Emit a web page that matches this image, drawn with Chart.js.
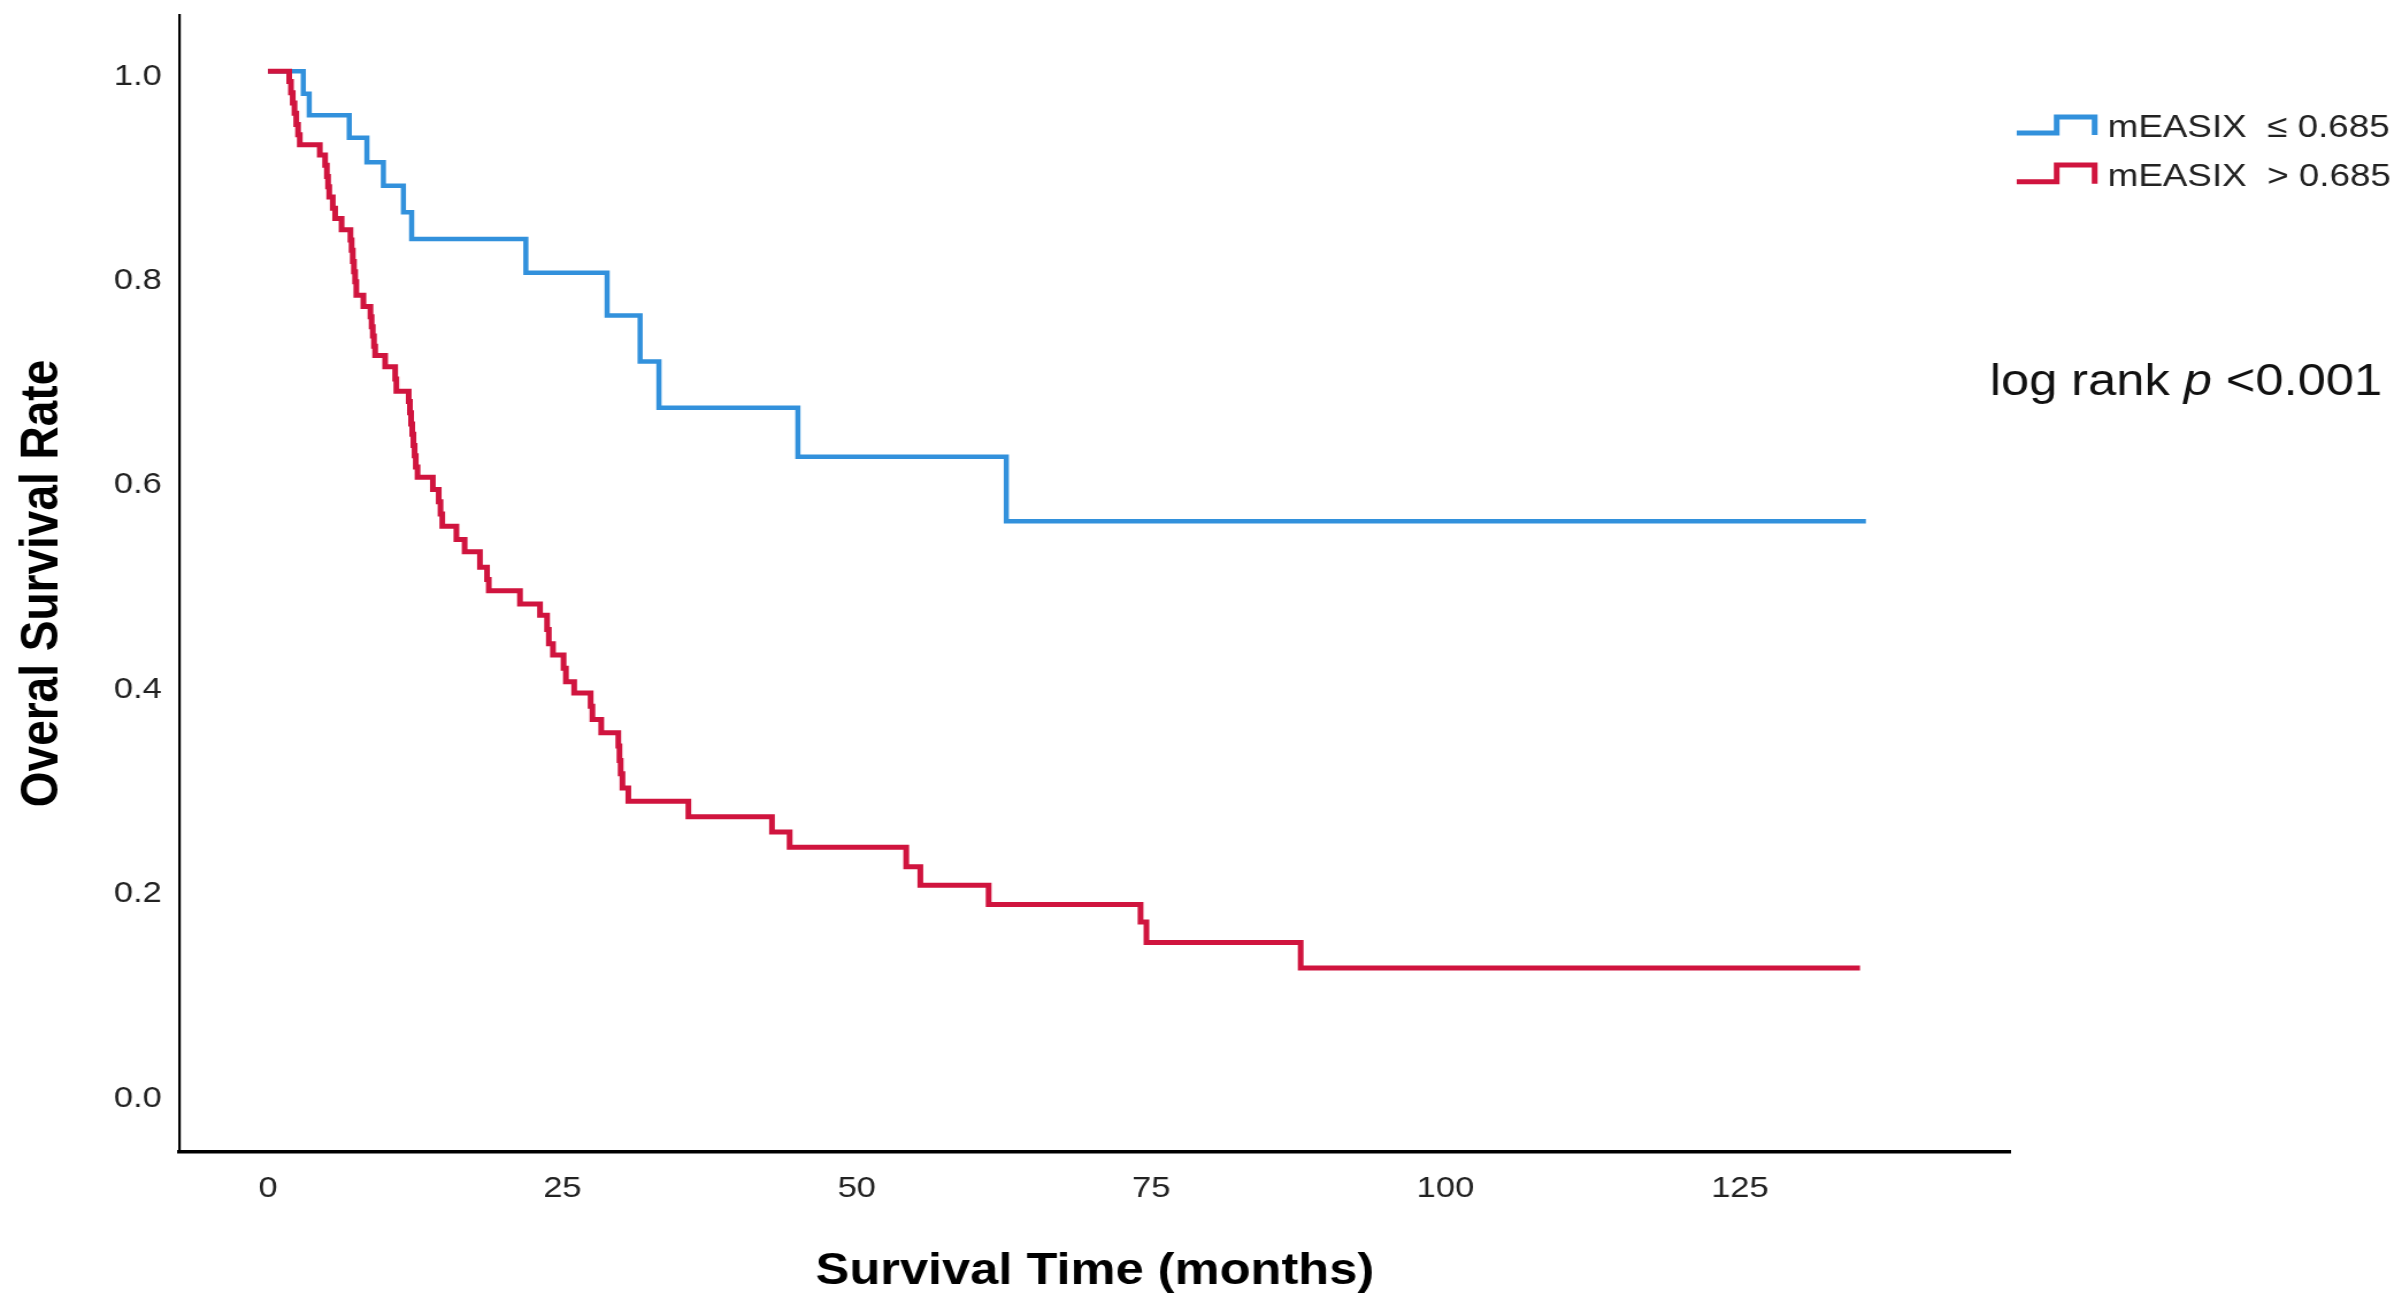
<!DOCTYPE html>
<html>
<head>
<meta charset="utf-8">
<script src="https://cdn.jsdelivr.net/npm/chart.js@4.4.1/dist/chart.umd.min.js"></script>
<style>
  html, body { margin: 0; padding: 0; background: #fff; }
  #km { display: block; }
</style>
</head>
<body>
<canvas id="km"></canvas>
<script>
// Kaplan-Meier steps (time in months, survival rate)
const lowTime = [0, 3.0, 3.5, 6.9, 8.4, 9.8, 11.5, 12.2, 21.9, 28.8, 31.6, 33.2, 45.0, 62.7, 135.7];
const lowSurv = [1.0, 0.978, 0.957, 0.935, 0.911, 0.888, 0.862, 0.836, 0.803, 0.761, 0.716, 0.671, 0.623, 0.560, 0.560];

const highTime = [0, 1.8, 1.95, 2.1, 2.25, 2.4, 2.55, 2.7,
    4.4, 4.85, 5.0, 5.1, 5.2, 5.5, 5.7, 6.25,
    7.0, 7.1, 7.2, 7.3, 7.4, 7.5, 8.1,
    8.7, 8.8, 8.9, 9.0, 9.1, 9.95,
    10.8, 10.9,
    11.95, 12.05, 12.15, 12.25, 12.35, 12.45, 12.55, 12.7,
    14.0, 14.5, 14.65, 14.8,
    16.0, 16.7, 18.0, 18.6, 18.75,
    21.4, 23.1, 23.7, 23.85, 24.2,
    25.1, 25.3, 26.0, 27.4, 27.55, 28.3,
    29.75, 29.85, 29.95, 30.1, 30.6,
    35.7, 42.8, 44.3, 54.2, 55.4, 61.2, 74.1, 74.6, 87.7, 135.2];
const highSurv = [1.0, 0.990, 0.979, 0.969, 0.959, 0.948, 0.938, 0.928,
    0.918, 0.908, 0.897, 0.887, 0.877, 0.866, 0.856, 0.845,
    0.835, 0.825, 0.814, 0.804, 0.794, 0.781, 0.770,
    0.760, 0.750, 0.741, 0.731, 0.722, 0.711,
    0.699, 0.687,
    0.677, 0.666, 0.655, 0.645, 0.634, 0.624, 0.613, 0.603,
    0.591, 0.579, 0.567, 0.555,
    0.542, 0.530, 0.515, 0.503, 0.492,
    0.479, 0.468, 0.454, 0.440, 0.429,
    0.416, 0.403, 0.392, 0.379, 0.366, 0.353,
    0.340, 0.326, 0.313, 0.299, 0.286,
    0.271, 0.256, 0.241, 0.222, 0.204, 0.185, 0.168, 0.148, 0.123, 0.123];

const seriesLabels = ['mEASIX  \u2264 0.685', 'mEASIX  > 0.685'];
const xTicks = [0, 25, 50, 75, 100, 125];
const yTicks = [0, 0.2, 0.4, 0.6, 0.8, 1.0];

const BLUE = '#3291dc';
const RED = '#d0143e';
const FONT = '"Liberation Sans", Arial, sans-serif';

// the original picture is a little stretched sideways, so the canvas is too
const STRETCH = 1.15;
const W = Math.round(2402 / STRETCH);
const H = 1305;

const canvas = document.getElementById('km');
canvas.width = W;
canvas.height = H;
canvas.style.width = '2402px';
canvas.style.height = H + 'px';

function toPoints(times, values) {
    return times.map((t, i) => ({ x: t, y: values[i] }));
}

// Titles, legend and the log rank note
const annotate = {
    id: 'annotate',
    afterDraw(chart) {
        const ctx = chart.ctx;
        const area = chart.chartArea;

        ctx.save();
        ctx.fillStyle = '#000';
        ctx.font = 'bold 44px ' + FONT;
        ctx.textAlign = 'center';
        ctx.textBaseline = 'alphabetic';
        ctx.fillText('Survival Time (months)', (area.left + area.right) / 2, 1284);

        ctx.translate(49.6, (area.top + area.bottom) / 2);
        ctx.rotate(-Math.PI / 2);
        ctx.font = 'bold 46px ' + FONT;
        ctx.fillText('Overal Survival Rate', 0, 0);
        ctx.restore();

        // legend with step icons
        const entries = [
            { label: seriesLabels[0], color: BLUE, low: 133, high: 117, textY: 128 },
            { label: seriesLabels[1], color: RED, low: 181.7, high: 165, textY: 177 }
        ];
        ctx.save();
        entries.forEach(e => {
            ctx.strokeStyle = e.color;
            ctx.lineWidth = 5;
            ctx.lineJoin = 'miter';
            ctx.beginPath();
            ctx.moveTo(1753.9, e.low);
            ctx.lineTo(1788.7, e.low);
            ctx.lineTo(1788.7, e.high);
            ctx.lineTo(1821.7, e.high);
            ctx.lineTo(1821.7, e.low + 2);
            ctx.stroke();

            ctx.fillStyle = '#222';
            ctx.font = '32px ' + FONT;
            ctx.textAlign = 'left';
            ctx.textBaseline = 'middle';
            ctx.fillText(e.label, 1833, e.textY);
        });

        // log rank p
        let x = 1730.4;
        const base = 395;
        ctx.textBaseline = 'alphabetic';
        ctx.fillStyle = '#111';
        ctx.font = '44px ' + FONT;
        ctx.fillText('log rank ', x, base);
        x += ctx.measureText('log rank ').width;
        ctx.font = 'italic 44px ' + FONT;
        ctx.fillText('p', x, base);
        x += ctx.measureText('p').width;
        ctx.font = '44px ' + FONT;
        ctx.fillText(' <0.001', x, base);
        ctx.restore();
    }
};

new Chart(canvas, {
    type: 'line',
    data: {
        datasets: [
            {
                label: seriesLabels[1],
                data: toPoints(highTime, highSurv),
                borderColor: RED,
                borderWidth: 5,
                stepped: 'before',
                pointRadius: 0,
                fill: false
            },
            {
                label: seriesLabels[0],
                data: toPoints(lowTime, lowSurv),
                borderColor: BLUE,
                borderWidth: 4.5,
                stepped: 'before',
                pointRadius: 0,
                fill: false
            }
        ]
    },
    options: {
        responsive: false,
        animation: false,
        devicePixelRatio: 1,
        layout: { autoPadding: false, padding: { left: 0, right: W - 1748.7, top: 15, bottom: 0 } },
        plugins: {
            legend: { display: false },
            tooltip: { enabled: false }
        },
        scales: {
            x: {
                type: 'linear',
                min: -7.56,
                max: 148.0,
                offset: false,
                grid: { display: false, drawTicks: false },
                border: { display: true, color: '#000', width: 3.5 },
                afterBuildTicks: s => { s.ticks = xTicks.map(v => ({ value: v })); },
                afterFit: s => {
                    s.height = 153;
                    s.paddingLeft = 0; s.paddingRight = 0;
                    s.paddingTop = 0; s.paddingBottom = 0;
                },
                ticks: {
                    padding: 19,
                    color: '#222',
                    font: { family: FONT, size: 30 },
                    maxRotation: 0,
                    callback: v => String(v)
                }
            },
            y: {
                type: 'linear',
                min: -0.057,
                max: 1.055,
                grid: { display: false, drawTicks: false },
                border: { display: true, color: '#000', width: 2.2 },
                afterBuildTicks: s => { s.ticks = yTicks.map(v => ({ value: v })); },
                afterFit: s => {
                    s.width = 155.65;
                    s.paddingLeft = 0; s.paddingRight = 0;
                    s.paddingTop = 0; s.paddingBottom = 0;
                },
                ticks: {
                    padding: 15,
                    labelOffset: 5,
                    color: '#222',
                    font: { family: FONT, size: 30 },
                    callback: v => Number(v).toFixed(1)
                }
            }
        }
    },
    plugins: [annotate]
});
</script>
</body>
</html>
